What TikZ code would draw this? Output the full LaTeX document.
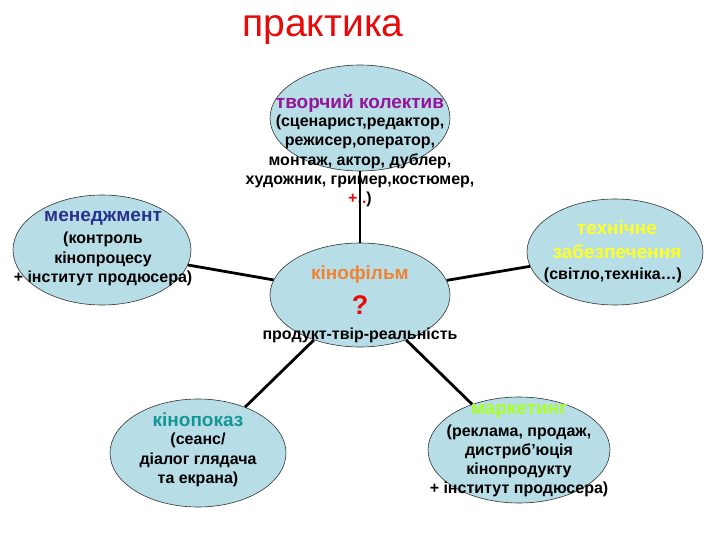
\documentclass[tikz,border=0pt]{standalone}
\usepackage{fontspec}
\setmainfont{Liberation Sans}
\usepackage{xcolor}
\usetikzlibrary{shapes.geometric,positioning}

\definecolor{blobfill}{RGB}{183,221,230}
\definecolor{crewcol}{RGB}{150,20,150}
\definecolor{mgmtcol}{RGB}{40,50,140}
\definecolor{filmcol}{RGB}{240,130,50}
\definecolor{techcol}{RGB}{255,255,40}
\definecolor{showcol}{RGB}{20,150,150}
\definecolor{mktcol}{RGB}{170,255,40}
\definecolor{titlecol}{RGB}{230,10,10}

\begin{document}
\begin{tikzpicture}[
  x=1pt, y=-1pt,
  blob/.style={ellipse, draw=black!80, fill=blobfill, line width=0.6pt,
    minimum width=180pt, minimum height=106pt, inner sep=0pt},
  txt/.style={align=center, font=\bfseries\fontsize{16}{19.2}\selectfont},
  head/.style={align=center, font=\bfseries\fontsize{19}{24}\selectfont},
  link/.style={line width=2.8pt, black}
]
\useasboundingbox (0,0) rectangle (720,540);

% title
\node[font=\fontsize{39}{40}\selectfont, text=titlecol] (title) at (323,30) {практика};

% ellipses
\node[blob] (crew) at (360,118) {};
\node[blob, minimum height=104pt] (film) at (360,295) {};
\node[blob, minimum width=178pt, minimum height=110pt] (mgmt) at (102,250) {};
\node[blob, minimum width=176pt] (tech) at (615,252) {};
\node[blob, minimum width=176pt, minimum height=108pt] (show) at (198,453) {};
\node[blob, minimum width=182pt] (mkt) at (519,450) {};

% texts
\node[head, text=crewcol] (crewhead) at (360,103) {творчий колектив};
\node[txt] (crewtxt) at (360,161) {(сценарист,редактор,\\режисер,оператор,\\монтаж, актор, дублер,\\художник, гример,костюмер,\\\textcolor{titlecol}{+..})};

\node[head, text=filmcol] (filmhead) at (360,275) {кінофільм};
\node[font=\bfseries\fontsize{27}{27}\selectfont, text=titlecol] (quest) at (360,305) {?};
\node[txt] (filmtxt) at (360,335) {продукт-твір-реальність};

\node[head, text=mgmtcol] (mgmthead) at (103,218) {менеджмент};
\node[txt] (mgmttxt) at (103,259) {(контроль\\кінопроцесу\\+ інститут продюсера)};

\node[head, text=techcol] (techhead) at (617,240) {технічне\\забезпечення};
\node[txt] (techtxt) at (613,275) {(світло,техніка…)};

\node[head, text=showcol] (showhead) at (198,420) {кінопоказ};
\node[txt] (showtxt) at (198,460) {(сеанс/\\діалог глядача\\та екрана)};

\node[head, text=mktcol] (mkthead) at (519,411) {маркетинг};
\node[txt] (mkttxt) at (519,461) {(реклама, продаж,\\дистриб’юція\\кінопродукту\\+ інститут продюсера)};

% connectors
\foreach \other in {crew,mgmt,tech,show,mkt}
  \draw[link] (film) -- (\other);
\end{tikzpicture}
\end{document}
